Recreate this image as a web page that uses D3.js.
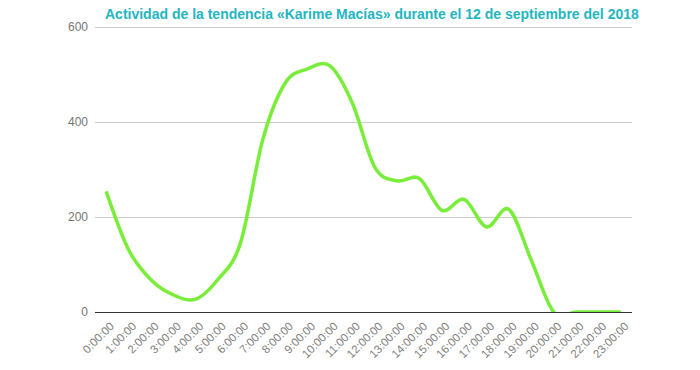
<!DOCTYPE html>
<html><head><meta charset="utf-8">
<script src="https://cdn.jsdelivr.net/npm/d3@7"></script>
<style>body{margin:0;background:#fff}</style>
</head><body><svg id="c" width="700" height="370"></svg>
<script>
const titleText = "Actividad de la tendencia «Karime Macías» durante el 12 de septiembre del 2018";
const hours = ["0:00:00","1:00:00","2:00:00","3:00:00","4:00:00","5:00:00","6:00:00","7:00:00","8:00:00","9:00:00","10:00:00","11:00:00","12:00:00","13:00:00","14:00:00","15:00:00","16:00:00","17:00:00","18:00:00","19:00:00","20:00:00","21:00:00","22:00:00","23:00:00"];
const activity = [254,131,68,36,27,69,145,363,482,512,518,440,305,276,281,214,237,179,216,109,0,0,0,0];
const yTicks = [0,200,400,600];

const svg = d3.select("#c");
const mLeft = 95, mRight = 632, mTop = 27, mBottom = 312;
const x = d3.scaleBand().domain(hours).range([mLeft, mRight]);
const y = d3.scaleLinear().domain([0, 600]).range([mBottom, mTop]);
const font = "Arial, 'Liberation Sans', sans-serif";

// gridlines
svg.append("g").selectAll("line").data(yTicks.filter(d => d > 0)).join("line")
  .attr("x1", mLeft).attr("x2", mRight)
  .attr("y1", d => y(d) + 0.5).attr("y2", d => y(d) + 0.5)
  .attr("stroke", "#cccccc").attr("stroke-width", 1);

// y labels
svg.append("g").selectAll("text").data(yTicks).join("text")
  .attr("x", 88).attr("y", d => y(d)).attr("dy", "0.36em")
  .attr("text-anchor", "end").attr("font-family", font).attr("font-size", 12)
  .attr("fill", "#757575").text(d => d);

// clip
svg.append("clipPath").attr("id", "area").append("rect")
  .attr("x", mLeft).attr("y", mTop).attr("width", mRight - mLeft).attr("height", mBottom - mTop);

const line = d3.line()
  .x((d, i) => x(hours[i]) + x.bandwidth() / 2)
  .y(d => y(d))
  .curve(d3.curveCardinal.tension(0));

svg.append("path").datum(activity)
  .attr("clip-path", "url(#area)")
  .attr("d", line).attr("fill", "none")
  .attr("stroke", "#78ee3a").attr("stroke-width", 3.5);

// baseline
svg.append("line").attr("x1", mLeft).attr("x2", mRight)
  .attr("y1", mBottom + 0.5).attr("y2", mBottom + 0.5)
  .attr("stroke", "#333333").attr("stroke-width", 1);

// x labels
svg.append("g").selectAll("text").data(hours).join("text")
  .attr("transform", d => `translate(${x(d) + x.bandwidth() / 2 + 8.5},${mBottom + 15}) rotate(-45)`)
  .attr("text-anchor", "end").attr("font-family", font).attr("font-size", 11.5)
  .attr("fill", "#808080").text(d => d);

// title
svg.append("text").attr("x", 105).attr("y", 19)
  .attr("font-family", font).attr("font-size", 14).attr("font-weight", "bold")
  .attr("fill", "#24b5bf").text(titleText);
</script></body></html>
